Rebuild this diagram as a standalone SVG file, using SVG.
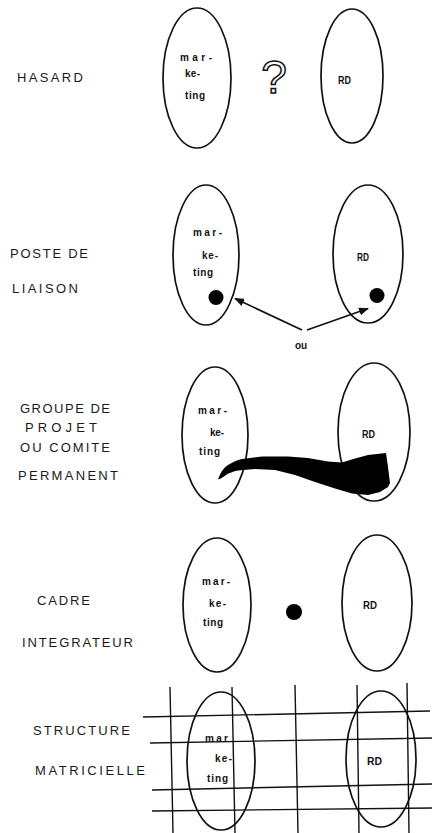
<svg xmlns="http://www.w3.org/2000/svg" width="432" height="833" viewBox="0 0 432 833">
<style>
.bg{fill:#fff}
.ell{fill:none;stroke:#111;stroke-width:1.7}
.lab{font-family:"Liberation Sans",Arial,sans-serif;font-size:13px;fill:#1a1a1a}
.in{font-family:"Liberation Sans",Arial,sans-serif;font-size:10px;font-weight:bold;fill:#111}
.dot{fill:#000}
.grid line{stroke:#111;stroke-width:1.4}
.conn line{stroke:#111;stroke-width:1.8}
</style>
<defs>
<marker id="ah" markerWidth="10" markerHeight="8" refX="9" refY="4" orient="auto" markerUnits="userSpaceOnUse">
<path d="M0,0 L10,4 L0,8 z" fill="#111"/>
</marker>
</defs>
<rect class="bg" width="432" height="833"/>

<!-- Row labels -->
<g id="label-hasard"><text class="lab" x="17" y="82" textLength="66" lengthAdjust="spacing">HASARD</text></g>
<g id="label-poste"><text class="lab" x="10" y="258" textLength="78" lengthAdjust="spacing">POSTE DE</text><text class="lab" x="12" y="293" textLength="66" lengthAdjust="spacing">LIAISON</text></g>
<g id="label-groupe"><text class="lab" x="20" y="413" textLength="90" lengthAdjust="spacing">GROUPE DE</text><text class="lab" x="25" y="432" textLength="72" lengthAdjust="spacing">PROJET</text><text class="lab" x="20" y="452" textLength="90" lengthAdjust="spacing">OU COMITE</text><text class="lab" x="18" y="480" textLength="100" lengthAdjust="spacing">PERMANENT</text></g>
<g id="label-cadre"><text class="lab" x="37" y="605" textLength="53" lengthAdjust="spacing">CADRE</text><text class="lab" x="22" y="647" textLength="111" lengthAdjust="spacing">INTEGRATEUR</text></g>
<g id="label-structure"><text class="lab" x="33" y="735" textLength="97" lengthAdjust="spacing">STRUCTURE</text><text class="lab" x="35" y="775" textLength="110" lengthAdjust="spacing">MATRICIELLE</text></g>

<!-- Row 1 -->
<g id="mk1"><ellipse class="ell" cx="197" cy="78" rx="34" ry="70"/>
<text class="in" x="180" y="61" textLength="32" lengthAdjust="spacing">mar-</text>
<text class="in" x="185" y="77" textLength="15" lengthAdjust="spacing">ke-</text>
<text class="in" x="185" y="99" textLength="20" lengthAdjust="spacing">ting</text></g>
<g id="q1"><text x="274" y="93" text-anchor="middle" font-family="Liberation Sans,Arial,sans-serif" font-size="46" fill="#fff" stroke="#111" stroke-width="1.5">?</text></g>
<g id="rd1"><ellipse class="ell" cx="352" cy="76" rx="31" ry="67"/>
<text class="in" x="338" y="84" textLength="13" lengthAdjust="spacingAndGlyphs">RD</text></g>

<!-- Row 2 -->
<g id="mk2"><ellipse class="ell" cx="206" cy="255" rx="33" ry="70"/>
<text class="in" x="193" y="236" textLength="29" lengthAdjust="spacing">mar-</text>
<text class="in" x="202" y="259" textLength="16" lengthAdjust="spacing">ke-</text>
<text class="in" x="193" y="276" textLength="20" lengthAdjust="spacing">ting</text>
<circle class="dot" cx="216" cy="297.5" r="7.5"/></g>
<g id="rd2"><ellipse class="ell" cx="368" cy="254" rx="35" ry="69"/>
<text class="in" x="357" y="261" textLength="12" lengthAdjust="spacingAndGlyphs">RD</text>
<circle class="dot" cx="377" cy="295.5" r="7.5"/></g>
<g id="ou"><text class="in" x="295" y="349" textLength="12" lengthAdjust="spacing">ou</text></g>

<!-- Row 3 -->
<g id="mk3"><ellipse class="ell" cx="215" cy="435" rx="33" ry="68"/>
<text class="in" x="198" y="414" textLength="29" lengthAdjust="spacing">mar-</text>
<text class="in" x="210" y="436" textLength="14" lengthAdjust="spacing">ke-</text>
<text class="in" x="199" y="455" textLength="21" lengthAdjust="spacing">ting</text></g>
<g id="rd3"><ellipse class="ell" cx="374" cy="432" rx="36" ry="69"/>
<text class="in" x="362" y="438" textLength="13" lengthAdjust="spacingAndGlyphs">RD</text></g>
<g id="comite"><path fill="#000" d="M218,479.5 C220,474 223,468 228,465 C233,462 237,460 242,459 L262,456.5 L288,456.5 L308,458 L328,461.5 L342,462.5 L355,458.5 L368,455 L386,453 L388,467 L390,483 L388,487 L380,492 L368,495 L352,493.5 L335,488.5 L315,482 L295,475 L275,470 L255,469 L238,470.5 C233,471.5 229,473 226,475 C223,477 221,479 218,479.5 Z"/></g>

<!-- Row 4 -->
<g id="mk4"><ellipse class="ell" cx="217" cy="605" rx="34" ry="67"/>
<text class="in" x="202" y="585" textLength="28" lengthAdjust="spacing">mar-</text>
<text class="in" x="209" y="607" textLength="17" lengthAdjust="spacing">ke-</text>
<text class="in" x="203" y="626" textLength="20" lengthAdjust="spacing">ting</text></g>
<g id="cadre"><circle class="dot" cx="294" cy="612" r="8"/></g>
<g id="rd4"><ellipse class="ell" cx="377" cy="603" rx="35" ry="68"/>
<text class="in" x="363" y="609" textLength="14" lengthAdjust="spacingAndGlyphs">RD</text></g>

<!-- Row 5 -->
<g class="grid" id="grid">
<line x1="170" y1="687" x2="173" y2="833"/>
<line x1="232" y1="687" x2="235" y2="833"/>
<line x1="295" y1="685" x2="298" y2="833"/>
<line x1="357" y1="685" x2="359" y2="833"/>
<line x1="407" y1="683" x2="409" y2="833"/>
<line x1="143" y1="717" x2="430" y2="711"/>
<line x1="150" y1="743" x2="432" y2="738"/>
<line x1="152" y1="790" x2="432" y2="784"/>
<line x1="152" y1="811" x2="432" y2="808"/>
</g>
<g id="mk5"><ellipse class="ell" cx="221" cy="761" rx="34" ry="69"/>
<text class="in" x="205" y="742" textLength="23" lengthAdjust="spacing">mar</text>
<text class="in" x="215" y="762" textLength="17" lengthAdjust="spacing">ke-</text>
<text class="in" x="207" y="782" textLength="21" lengthAdjust="spacing">ting</text></g>
<g id="rd5"><ellipse class="ell" cx="381" cy="759" rx="35" ry="68"/>
<text class="in" x="367" y="765" textLength="15" lengthAdjust="spacingAndGlyphs">RD</text></g>

<!-- Connectors -->
<g class="conn" id="connectors">
<line x1="302" y1="330" x2="235" y2="298.5" marker-end="url(#ah)"/>
<line x1="307" y1="330" x2="368" y2="308.5" marker-end="url(#ah)"/>
</g>
</svg>
